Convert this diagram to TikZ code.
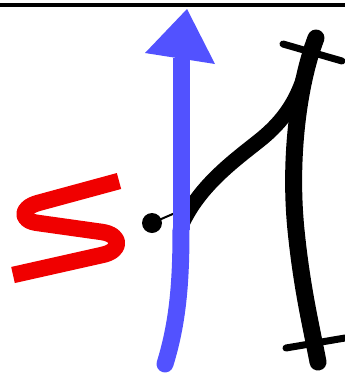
\documentclass[tikz,border=0pt]{standalone}
\definecolor{arrowblue}{RGB}{82,82,255}
\definecolor{sred}{RGB}{240,0,0}
\tikzset{
  thickblack/.style={line width=17pt, line cap=round, black},
  bar/.style={line width=7pt, line cap=round, black},
}
\begin{document}
\begin{tikzpicture}[x=1pt,y=-1pt]
\useasboundingbox (0,0) rectangle (345,376);
% top border
\draw[line width=4pt] (0,5) -- (345,5);
% red S
\draw[sred, line width=16.5pt, line join=round, line cap=butt]
  (119,181) -- (38,203) .. controls (20,208) and (20,221) .. (38,223)
  -- (102,232) .. controls (122,235) and (122,251) .. (102,255) -- (13,275);
% black curve and line
\coordinate (ctop) at (316,38);
\coordinate (cstart) at (182,224);
\coordinate (cbot) at (318,362);
\coordinate (dotc) at (152,223);
\draw[line width=2pt] (dotc) -- (182,210);
\draw[thickblack, line width=15pt, line cap=butt] (cstart) .. controls (200,185) and (235,160) .. (260,140) .. controls (285,120) and (296,100) .. (303,80);
\draw[thickblack] (ctop) .. controls (298,85) and (289,160) .. (296,230) .. controls (302,290) and (312,330) .. (cbot);
% cross bars
\draw[bar] (283,44) -- (342,61);
\draw[bar] (286,348) -- (345,338);
% blue arrow
\coordinate (btail) at (165,364);
\coordinate (bmid) at (181,230);
\coordinate (btop) at (181,58);
\draw[arrowblue, line width=17pt, line cap=round] (btail) .. controls (178,322) and (181,282) .. (bmid);
\draw[arrowblue, line width=17pt] (bmid) -- (btop);
\fill[arrowblue] (187,9) -- (145,53) -- (215,64) -- cycle;
% dot
\node[circle, fill=black, inner sep=0pt, minimum size=20pt] (dot) at (dotc) {};
\end{tikzpicture}
\end{document}
